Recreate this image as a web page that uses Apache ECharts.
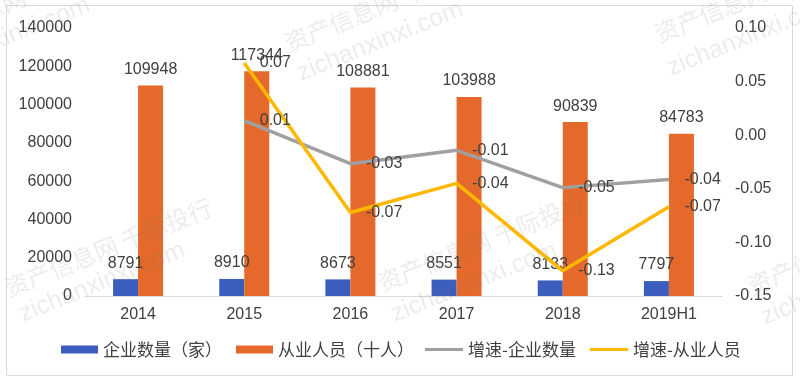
<!DOCTYPE html>
<html>
<head>
<meta charset="utf-8">
<script src="https://cdn.jsdelivr.net/npm/echarts@6/dist/echarts.min.js"></script>
<style>html,body{margin:0;padding:0;background:#fff;}#c{width:800px;height:382px;}</style>
</head>
<body>
<div id="c"></div>
<script>
var categories = ['2014', '2015', '2016', '2017', '2018', '2019H1'];
var companies = [8791, 8910, 8673, 8551, 8133, 7797];
var employees = [109948, 117344, 108881, 103988, 90839, 84783];
var growthCompanies = [null, 0.0135, -0.0266, -0.0141, -0.0489, -0.0413];
var growthEmployees = [null, 0.0673, -0.0721, -0.0449, -0.1265, -0.0667];
var seriesNames = ['企业数量（家）', '从业人员（十人）', '增速-企业数量', '增速-从业人员'];
var watermarkCN = '资产信息网 千际投行';
var watermarkEN = 'zichanxinxi.com';

var FONT = "'Liberation Sans', 'Noto Sans CJK SC', sans-serif";
var CJK = "'Noto Sans CJK SC', 'Liberation Sans', sans-serif";
var TXT = '#404040';

var chart = echarts.init(document.getElementById('c'), null, {renderer: 'canvas'});

var wmPositions = [
  [10, 300, 25, 327],
  [383, 295, 397, 327],
  [753, 298, 767, 330],
  [290, 55, 303, 86],
  [660, 46, 673, 81],
  [-82, 52, -70, 82]
];
var rot = 22 * Math.PI / 180;
var graphics = [{
  type: 'rect', z: 0, silent: true,
  shape: {x: 6.5, y: 5.5, width: 786, height: 370},
  style: {fill: 'none', stroke: '#d9d9d9', lineWidth: 1}
}];
wmPositions.forEach(function (p) {
  graphics.push({
    type: 'text', x: p[0], y: p[1], rotation: rot, z: 100, silent: true,
    style: {text: watermarkCN, font: '24px ' + CJK, fill: 'rgba(128,128,128,0.15)', textAlign: 'left', textVerticalAlign: 'bottom'}
  });
  graphics.push({
    type: 'text', x: p[2], y: p[3], rotation: rot, z: 100, silent: true,
    style: {text: watermarkEN, font: '25px ' + FONT, fill: 'rgba(128,128,128,0.15)', textAlign: 'left', textVerticalAlign: 'bottom'}
  });
});

var lineLabel = {
  show: true, position: 'right', distance: 15, color: TXT, fontSize: 16, fontFamily: FONT,
  formatter: function (p) { return p.value == null ? '' : p.value.toFixed(2); }
};
var barLabel = {show: true, position: 'top', distance: 8, color: TXT, fontSize: 16, fontFamily: FONT};

chart.setOption({
  animation: false,
  textStyle: {fontFamily: FONT},
  grid: {left: 85, right: 78, top: 28, bottom: 86, containLabel: false},
  legend: [{
    data: [seriesNames[0], seriesNames[1]],
    left: 61, top: 341, padding: 0, icon: 'rect', itemWidth: 37, itemHeight: 8, itemGap: 14,
    textStyle: {color: TXT, fontSize: 17, fontFamily: CJK}
  }, {
    data: [seriesNames[2], seriesNames[3]],
    left: 425, top: 341, padding: 0, icon: 'rect', itemWidth: 38, itemHeight: 3, itemGap: 14,
    textStyle: {color: TXT, fontSize: 17, fontFamily: CJK}
  }],
  xAxis: {
    type: 'category', data: categories,
    axisLine: {lineStyle: {color: '#d9d9d9', width: 1}},
    axisTick: {show: false},
    axisLabel: {color: TXT, fontSize: 16, margin: 11, fontFamily: FONT}
  },
  yAxis: [{
    type: 'value', min: 0, max: 140000, interval: 20000,
    splitLine: {show: false}, axisLine: {show: false}, axisTick: {show: false},
    axisLabel: {color: TXT, fontSize: 16, margin: 13, fontFamily: FONT,
      formatter: function (v) { return String(v); }}
  }, {
    type: 'value', min: -0.15, max: 0.10, interval: 0.05,
    splitLine: {show: false}, axisLine: {show: false}, axisTick: {show: false},
    axisLabel: {color: TXT, fontSize: 16, margin: 13, fontFamily: FONT,
      formatter: function (v) { return v.toFixed(2); }}
  }],
  series: [{
    name: seriesNames[0], type: 'bar', data: companies, yAxisIndex: 0,
    barWidth: 25, barGap: '0%',
    itemStyle: {color: '#3b5dbd'}, label: barLabel
  }, {
    name: seriesNames[1], type: 'bar', data: employees, yAxisIndex: 0,
    barWidth: 25, barGap: '0%',
    itemStyle: {color: '#e4692a'}, label: barLabel
  }, {
    name: seriesNames[2], type: 'line', data: growthCompanies, yAxisIndex: 1,
    symbol: 'circle', symbolSize: 1, showSymbol: true,
    lineStyle: {color: '#a0a0a0', width: 3.5}, itemStyle: {color: '#a0a0a0'},
    label: lineLabel, z: 5
  }, {
    name: seriesNames[3], type: 'line', data: growthEmployees, yAxisIndex: 1,
    symbol: 'circle', symbolSize: 1, showSymbol: true,
    lineStyle: {color: '#ffb800', width: 3.5}, itemStyle: {color: '#ffb800'},
    label: lineLabel, z: 5
  }],
  graphic: graphics
});
</script>
</body>
</html>
